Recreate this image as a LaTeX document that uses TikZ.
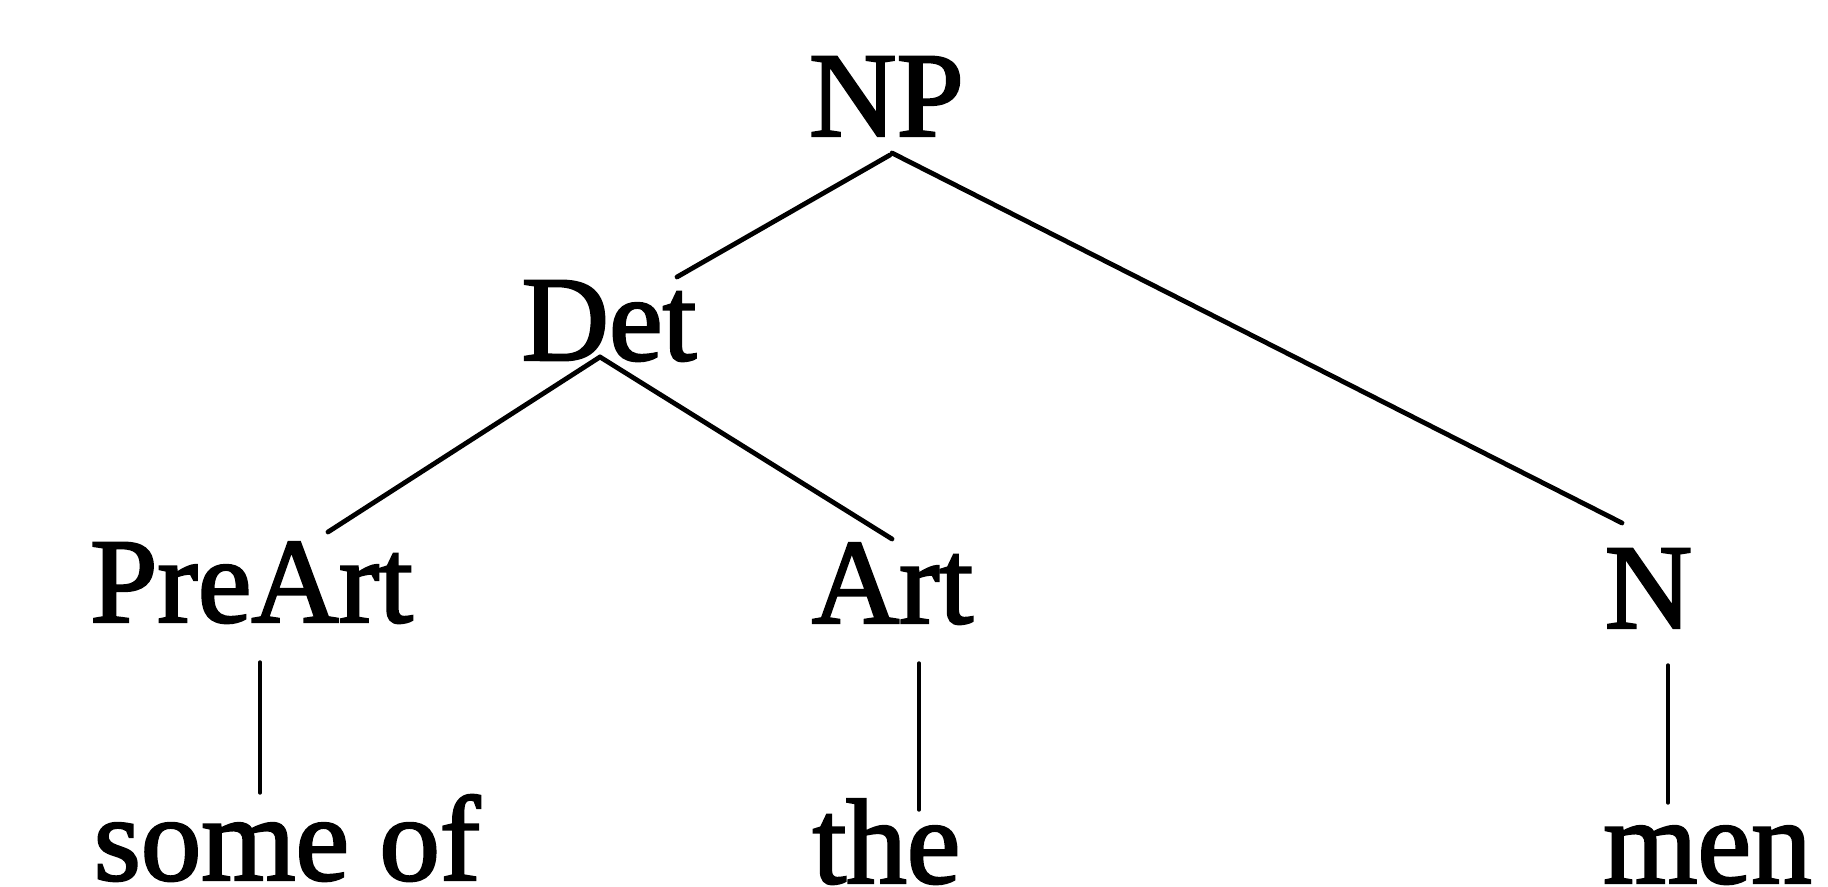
\documentclass[tikz,border=0pt]{standalone}
\usepackage{fontspec}
\setmainfont{Liberation Serif}
\newfontfamily\treefont{Liberation Serif}[FakeBold=2]
\usetikzlibrary{calc}
\tikzset{
  lbl/.style={anchor=base, inner sep=0pt, outer sep=0pt, font=\treefont\fontsize{60.5}{66}\selectfont},
  branch/.style={line width=2.4pt, line cap=round},
  stem/.style={line width=1.7pt, line cap=round}
}
\begin{document}
\begin{tikzpicture}[x=0.5pt, y=-0.5pt]
\useasboundingbox (0,0) rectangle (1828,887);
% labels
\node[lbl] (NP)     at (886.5,136) {NP};
\node[lbl] (Det)    at (609,360)   {Det};
\node[lbl] (PreArt) at (251.5,622) {PreArt};
\node[lbl] (Art)    at (892.5,623) {Art};
\node[lbl] (N)      at (1648.5,628) {N};
\node[lbl] (someof) at (287,880)   {some of};
\node[lbl] (the)    at (886.5,883) {the};
\node[lbl] (men)    at (1707.5,883) {men};
% connector ends
\coordinate (npL)  at ($(NP.base)+(3.5,19)$);
\coordinate (npR)  at ($(NP.base)+(5.5,17)$);
\coordinate (detT) at ($(Det.base)+(68,-83)$);
\coordinate (detB) at ($(Det.base)+(-9,-3)$);
\coordinate (preT) at ($(PreArt.base)+(76.5,-90)$);
\coordinate (preB) at ($(PreArt.base)+(8.5,40)$);
\coordinate (artT) at ($(Art.base)+(-0.5,-84)$);
\coordinate (artB) at ($(Art.base)+(26.5,40)$);
\coordinate (nT)   at ($(N.base)+(-26.5,-105)$);
\coordinate (nB)   at ($(N.base)+(19.5,37)$);
\coordinate (someT) at ($(someof.base)+(-27,-87)$);
\coordinate (theT)  at ($(the.base)+(32.5,-73)$);
\coordinate (menT)  at ($(men.base)+(-39.5,-80)$);
% branches
\draw[branch] (npL) -- (detT);
\draw[branch] (npR) -- (nT);
\draw[branch] (detB) -- (preT);
\draw[branch] (detB) -- (artT);
\draw[stem] (preB) -- (someT);
\draw[stem] (artB) -- (theT);
\draw[stem] (nB) -- (menT);
\end{tikzpicture}
\end{document}
